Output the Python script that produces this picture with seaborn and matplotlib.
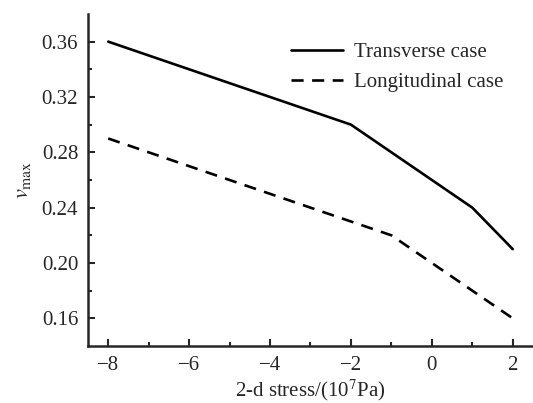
import matplotlib
matplotlib.use("Agg")
import matplotlib.pyplot as plt
import seaborn as sns
import pandas as pd

trans_x = [-8, -2, 1, 2]
trans_y = [0.36, 0.30, 0.24, 0.21]
long_x = [-8, -1, 2]
long_y = [0.29, 0.22, 0.16]
xticks = [-8, -6, -4, -2, 0, 2]
yticks = [0.16, 0.20, 0.24, 0.28, 0.32, 0.36]

sns.set_style("ticks")
plt.rcParams['font.family'] = ['Liberation Serif', 'DejaVu Serif']
plt.rcParams['mathtext.fontset'] = 'stix'

df = pd.concat([
    pd.DataFrame({"x": trans_x, "y": trans_y, "case": "Transverse case"}),
    pd.DataFrame({"x": long_x, "y": long_y, "case": "Longitudinal case"}),
])

fig = plt.figure(figsize=(5.33, 4.03), dpi=100)
ax = fig.add_axes([0.165, 0.1414, 0.835, 0.824])
sns.lineplot(data=df, x="x", y="y", style="case", color="black", linewidth=1.9,
             dashes={"Transverse case": "", "Longitudinal case": (4.6, 3.2)},
             ax=ax, legend=True, sort=False)

ax.set_xlim(-8.5, 2.5)
ax.set_ylim(0.14, 0.38)
ax.set_xticks(xticks)
ax.set_xticklabels(["\u22128", "\u22126", "\u22124", "\u22122", "0", "2"])
ax.set_yticks(yticks)
ax.set_yticklabels([f"{v:.2f}" for v in yticks])
ax.set_xticks([-7, -5, -3, -1, 1], minor=True)
ax.set_yticks([0.18, 0.22, 0.26, 0.30, 0.34], minor=True)
ax.tick_params(which='major', direction='in', length=5, width=1.5, labelsize=15, pad=7)
ax.tick_params(which='minor', direction='in', length=3, width=1.5)
for s in ['top', 'right']:
    ax.spines[s].set_visible(False)
for s in ['left', 'bottom']:
    ax.spines[s].set_linewidth(1.8)

ax.set_xlabel("2-d stress/(10$^7$Pa)", fontsize=15, labelpad=2)
ax.set_ylabel("$v_{\\mathrm{max}}$", fontsize=16, labelpad=6)

leg = ax.legend(loc='upper right', bbox_to_anchor=(0.975, 0.97), frameon=False, fontsize=15,
                handlelength=2.5, handletextpad=0.5, labelspacing=0.5, title=None)

fig.savefig("out.png", dpi=100)
